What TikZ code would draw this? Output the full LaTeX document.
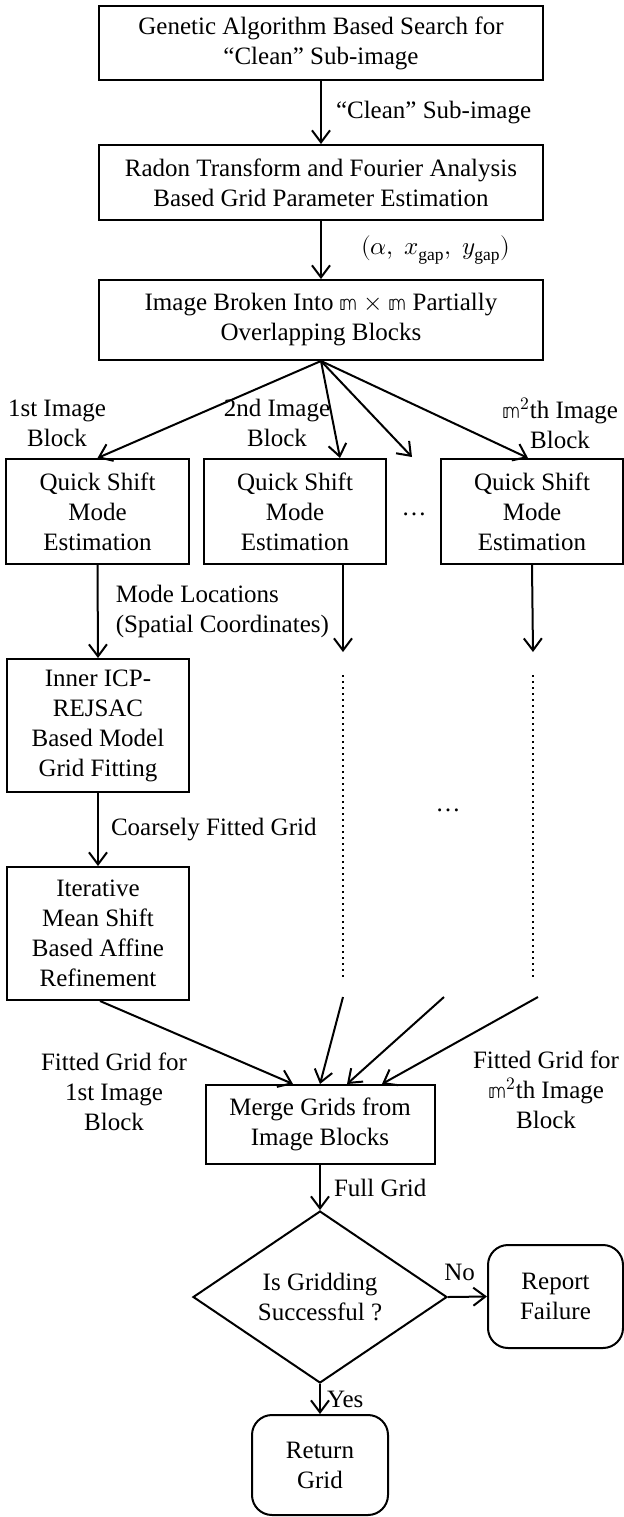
\documentclass[tikz,border=0pt]{standalone}
\usepackage{fontspec}
\usepackage{unicode-math}
\setmainfont{Liberation Serif}
\setmathfont{Latin Modern Math}
\usepackage{tikz}
\usetikzlibrary{arrows.meta, shapes.geometric}

\begin{document}
\begin{tikzpicture}[x=0.5pt, y=-0.5pt, font=\fontsize{12.5}{15}\selectfont,
    box/.style={draw, line width=1pt, align=center, inner sep=0pt},
    term/.style={box, rounded corners=10pt},
    flow/.style={line width=1pt, -{Straight Barb[length=6pt,width=9pt]}},
    lbl/.style={align=center, inner sep=0pt}]
    \useasboundingbox (0,0) rectangle (624,1517);
    % main column
    \node[box, minimum width=222pt, minimum height=37pt] (gasearch) at (321,43) {Genetic Algorithm Based Search for\\``Clean'' Sub-image};
    \node[box, minimum width=222pt, minimum height=37.5pt] (radon) at (321,182.5) {Radon Transform and Fourier Analysis\\Based Grid Parameter Estimation};
    \node[box, minimum width=222pt, minimum height=40pt] (blocks) at (321,320) {Image Broken Into $\mathbb{m}\times\mathbb{m}$ Partially\\Overlapping Blocks};
    \draw[flow] (gasearch.south) -- (radon.north) node[lbl, right=7pt, midway] {``Clean'' Sub-image};
    \draw[flow] (radon.south) -- (blocks.north) node[lbl, right=19.5pt, midway] {$(\alpha,\ x_{\mathrm{gap}},\ y_{\mathrm{gap}})$};
    % image blocks
    \node[box, minimum width=91.5pt, minimum height=52.5pt] (qsa) at (97.5,511.5) {Quick Shift\\Mode\\Estimation};
    \node[box, minimum width=91pt, minimum height=52.5pt] (qsb) at (295,511.5) {Quick Shift\\Mode\\Estimation};
    \node[box, minimum width=91pt, minimum height=52.5pt] (qsm) at (532,511.5) {Quick Shift\\Mode\\Estimation};
    \node[lbl] (dotsa) at (414,514) {\ldots};
    \coordinate (gapin) at (412,457);
    \node[lbl] (laba) at (57,423) {1st Image\\Block};
    \node[lbl] (labb) at (277,423) {2nd Image\\Block};
    \node[lbl] (labm) at (560,423) {$\mathbb{m}^2$th Image\\Block};
    \draw[flow] (blocks.south) -- (qsa.north);
    \draw[flow] (blocks.south) -- ([xshift=22.5pt]qsb.north);
    \draw[flow] (blocks.south) -- (gapin);
    \draw[flow] (blocks.south) -- ([xshift=-2pt]qsm.north);
    % first block chain
    \node[box, minimum width=91pt, minimum height=66.5pt] (icp) at (98,725.5) {Inner ICP-\\REJSAC\\Based Model\\Grid Fitting};
    \node[box, minimum width=91pt, minimum height=66.5pt] (refine) at (98,933.5) {Iterative\\Mean Shift\\Based Affine\\Refinement};
    \draw[flow] (qsa.south) -- (icp.north) node[lbl, right=8.5pt, midway, align=left] {Mode Locations\\(Spatial Coordinates)};
    \draw[flow] (icp.south) -- (refine.north) node[lbl, right=6pt, midway] {Coarsely Fitted Grid};
    % other blocks (elided)
    \coordinate (cb1) at (343,652);
    \coordinate (cb2) at (343,675);
    \coordinate (cb3) at (343,980);
    \coordinate (cb4) at (343,997);
    \coordinate (cm1) at (533,652);
    \coordinate (cm2) at (533,675);
    \coordinate (cm3) at (533,980);
    \coordinate (cm4) at (538,997);
    \coordinate (cg4) at (444,997);
    \draw[flow] ([xshift=24pt]qsb.south) -- (cb1);
    \draw[flow] (qsm.south) -- (cm1);
    \draw[line width=1pt, dotted] (cb2) -- (cb3);
    \draw[line width=1pt, dotted] (cm2) -- (cm3);
    \node[lbl] (dotsb) at (448,810) {\ldots};
    % merging
    \node[box, minimum width=114.5pt, minimum height=39.5pt] (merge) at (320,1124.5) {Merge Grids from\\Image Blocks};
    \node[lbl] (fita) at (114,1092) {Fitted Grid for\\1st Image\\Block};
    \node[lbl] (fitm) at (546,1090) {Fitted Grid for\\$\mathbb{m}^2$th Image\\Block};
    \draw[flow] ([xshift=1pt]refine.south) -- ([xshift=-13.5pt]merge.north);
    \draw[flow] (cb4) -- (merge.north);
    \draw[flow] (cg4) -- ([xshift=13.5pt]merge.north);
    \draw[flow] (cm4) -- ([xshift=31pt]merge.north);
    % decision
    \node[box, diamond, minimum width=127pt, minimum height=72.5pt] (check) at (320,1297) {Is Gridding\\Successful ?};
    \node[term, minimum width=67.5pt, minimum height=51.5pt] (fail) at (555.5,1296.5) {Report\\Failure};
    \node[term, minimum width=68pt, minimum height=50pt] (retgrid) at (320,1465) {Return\\Grid};
    \draw[flow] (merge.south) -- (check.north) node[lbl, right=6.5pt, midway] {Full Grid};
    \draw[flow] (check.east) -- (fail.west) node[lbl, above=7.5pt, pos=0.3] {No};
    \draw[flow] (check.south) -- (retgrid.north) node[lbl, right=3pt, midway] {Yes};
\end{tikzpicture}
\end{document}
